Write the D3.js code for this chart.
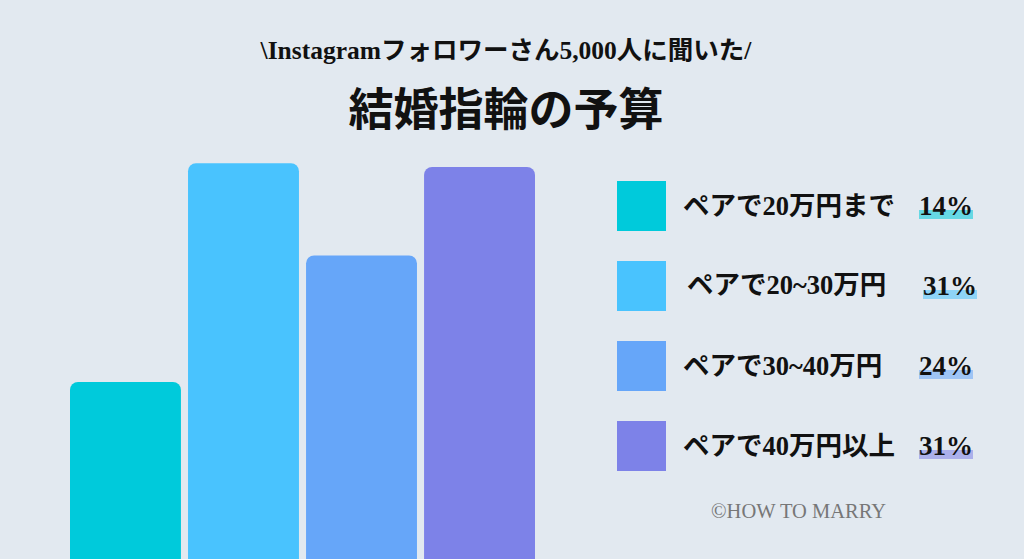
<!DOCTYPE html>
<html>
<head>
<meta charset="utf-8">
<script src="https://cdn.jsdelivr.net/npm/d3@7"></script>
<style>
  html, body { margin: 0; padding: 0; background: #e2e9f0; }
  svg { display: block; }
</style>
</head>
<body>
<div id="chart"></div>
<script>
const WIDTH = 1024;
const HEIGHT = 559;

// data
const categories = ['ペアで20万円まで', 'ペアで20~30万円', 'ペアで30~40万円', 'ペアで40万円以上'];
const barValues = [14, 31.3, 24, 31];
const pctLabels = ['14%', '31%', '24%', '31%'];
const colors = ['#00cadb', '#49c3fe', '#66a6f9', '#7d82e8'];

const SERIF = '"Liberation Serif", "DejaVu Serif", "Noto Sans CJK JP", serif';

const svg = d3.select('#chart').append('svg')
  .attr('width', WIDTH).attr('height', HEIGHT);

svg.append('rect')
  .attr('width', WIDTH).attr('height', HEIGHT)
  .attr('fill', '#e2e9f0');

// titles
svg.append('text')
  .attr('x', 506).attr('y', 59)
  .attr('text-anchor', 'middle')
  .attr('font-family', SERIF)
  .attr('font-weight', 'bold')
  .attr('font-size', 25.5)
  .attr('fill', '#111')
  .text('\\Instagramフォロワーさん5,000人に聞いた/');

svg.append('text')
  .attr('x', 506).attr('y', 126)
  .attr('text-anchor', 'middle')
  .attr('font-family', '"Noto Sans CJK JP", sans-serif')
  .attr('font-weight', 'bold')
  .attr('font-size', 45)
  .attr('fill', '#111')
  .text('結婚指輪の予算');

// bars
const x = d3.scaleBand()
  .domain(categories)
  .range([70, 535])
  .paddingInner(0.06);

const y = d3.scaleLinear()
  .domain([0, 31])
  .range([559, 167]);

svg.selectAll('.bar').data(categories)
  .enter()
  .append('rect')
  .attr('class', 'bar')
  .attr('x', d => x(d))
  .attr('y', (d, i) => y(barValues[i]))
  .attr('width', x.bandwidth())
  .attr('height', (d, i) => y(0) - y(barValues[i]) + 20)
  .attr('rx', 8)
  .attr('fill', (d, i) => colors[i]);

// legend
const legendY = d3.scaleBand()
  .domain(categories)
  .range([181, 471])
  .paddingInner(0.375);

const rows = svg.selectAll('.row').data(categories)
  .enter()
  .append('g')
  .attr('class', 'row')
  .attr('transform', d => `translate(0,${legendY(d)})`);

rows.append('rect')
  .attr('x', 617).attr('y', 0)
  .attr('width', 49).attr('height', 50)
  .attr('fill', (d, i) => colors[i]);

rows.append('rect')
  .attr('x', (d, i) => i === 1 ? 923 : 919)
  .attr('y', 29)
  .attr('width', 54).attr('height', 9)
  .attr('fill', (d, i) => colors[i])
  .attr('opacity', 0.55);

rows.append('text')
  .attr('x', (d, i) => i === 1 ? 687 : 683)
  .attr('y', (d, i) => i === 1 ? 33 : 34)
  .attr('font-family', SERIF)
  .attr('font-weight', 'bold')
  .attr('font-size', 26.5)
  .attr('fill', '#111')
  .text(d => d);

rows.append('text')
  .attr('x', (d, i) => i === 1 ? 923 : 919)
  .attr('y', 34)
  .attr('font-family', SERIF)
  .attr('font-weight', 'bold')
  .attr('font-size', 27)
  .attr('fill', '#111')
  .text((d, i) => pctLabels[i]);

svg.append('text')
  .attr('x', 711).attr('y', 518)
  .attr('font-family', SERIF)
  .attr('font-size', 20.5)
  .attr('fill', '#777')
  .text('©HOW TO MARRY');
</script>
</body>
</html>
